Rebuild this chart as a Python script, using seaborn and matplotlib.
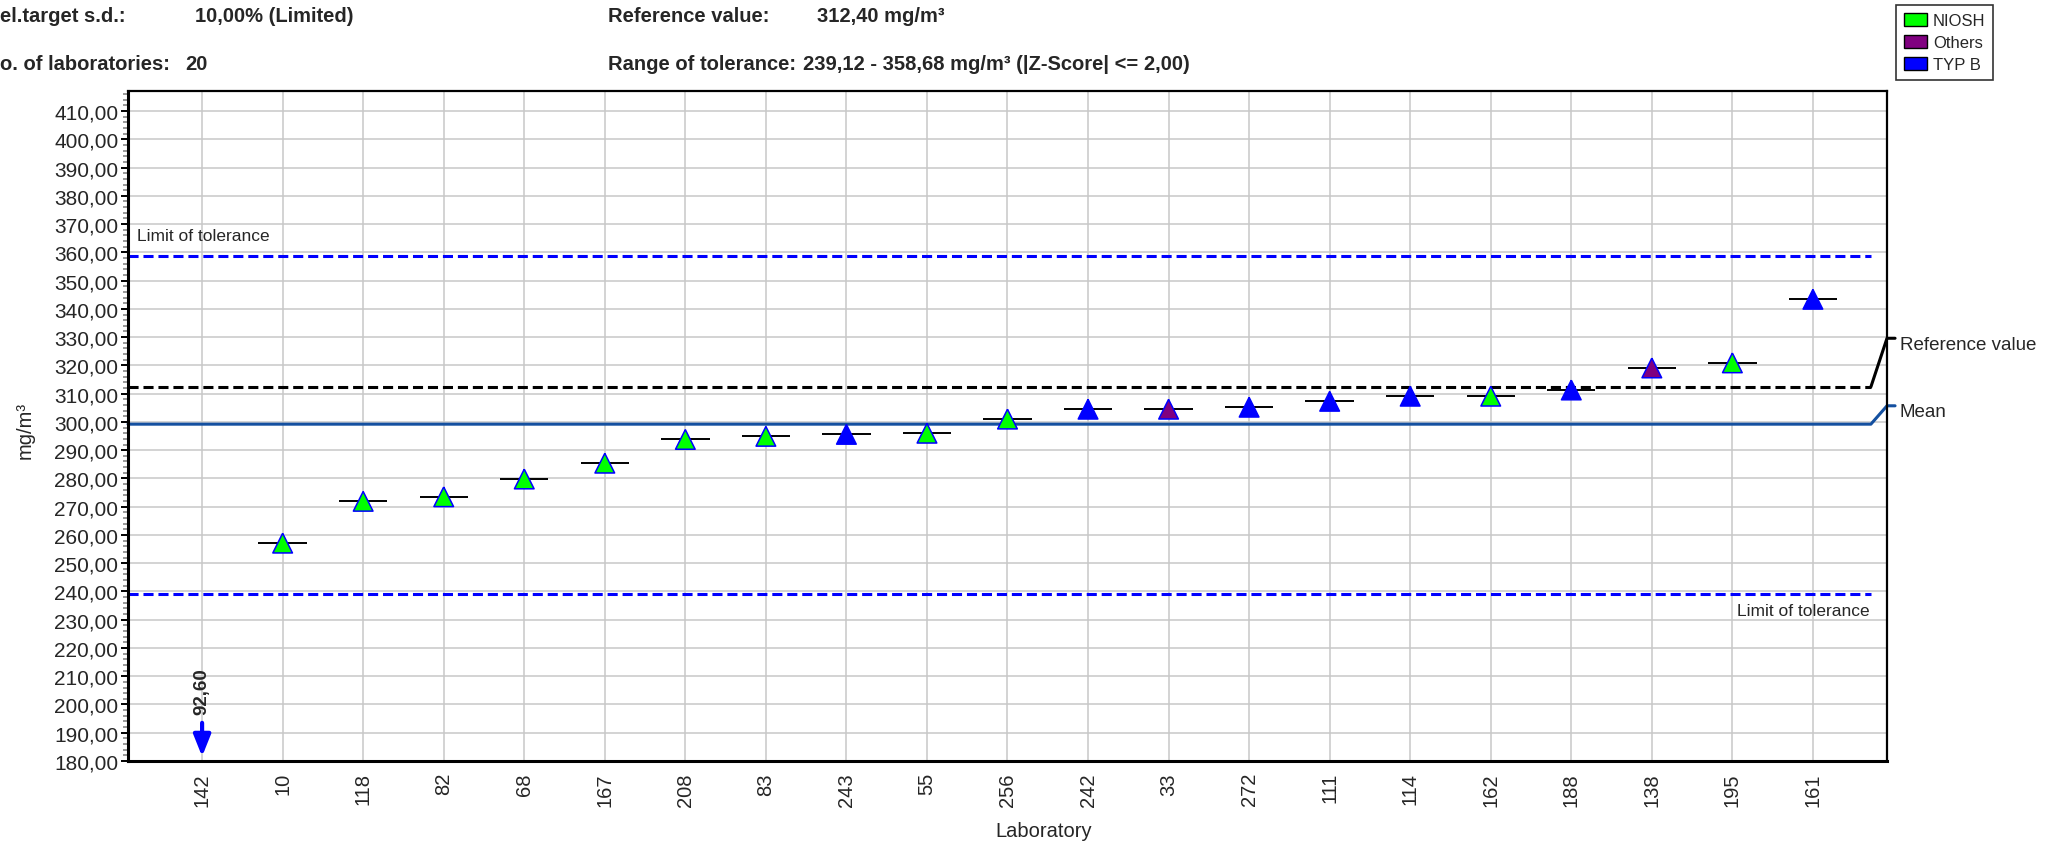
import numpy as np
import pandas as pd
import matplotlib
matplotlib.use('Agg')
import matplotlib.pyplot as plt
import seaborn as sns
from matplotlib.patches import Patch
from matplotlib.ticker import FuncFormatter, MultipleLocator

# ── Data ───────────────────────────────────────────────────────────────────────
labs = ['142', '10', '118', '82', '68', '167', '208', '83', '243', '55', '256',
        '242', '33', '272', '111', '114', '162', '188', '138', '195', '161']
values = [92.60, 257.1, 271.9, 273.5, 279.8, 285.4, 293.8, 294.9, 295.6, 296.0,
          301.0, 304.5, 304.5, 305.2, 307.3, 309.1, 309.1, 311.3, 319.1, 320.9, 343.4]
methods = ['TYP B', 'NIOSH', 'NIOSH', 'NIOSH', 'NIOSH', 'NIOSH', 'NIOSH', 'NIOSH',
           'TYP B', 'NIOSH', 'NIOSH', 'TYP B', 'Others', 'TYP B', 'TYP B', 'TYP B',
           'NIOSH', 'TYP B', 'Others', 'NIOSH', 'TYP B']
method_names = ['NIOSH', 'Others', 'TYP B']
method_colors = ['#00FF00', '#800080', '#0000FF']

REF_VALUE = 312.40
MEAN = 299.2
TOL_LOW, TOL_HIGH = 239.12, 358.68
Y_MIN, Y_MAX = 180, 417.1

# ── Style ──────────────────────────────────────────────────────────────────────
sns.set_theme(style='white')
plt.rcParams['font.family'] = ['Liberation Sans', 'DejaVu Sans']

W, H = 2064, 845
fig = plt.figure(figsize=(W / 100, H / 100), dpi=100)
ax = fig.add_axes([128 / W, 1 - 762 / H, (1887 - 128) / W, (762 - 92) / H])

x = np.arange(len(labs))
df = pd.DataFrame({'x': x, 'value': values, 'method': methods, 'lab': labs})
shown = df[df['value'] >= Y_MIN]
below = df[df['value'] < Y_MIN]

x_lo, x_hi = -0.92, len(labs) - 1 + 0.92
line_end = len(labs) - 1 + 0.72

ax.set_xlim(x_lo, x_hi)
ax.set_ylim(Y_MIN, Y_MAX)

# grid
for xi in x:
    ax.axvline(xi, color='#C8C8C8', lw=1.1, zorder=0)
for yv in np.arange(190, 411, 10):
    ax.axhline(yv, color='#C8C8C8', lw=1.1, zorder=0)

# tolerance, reference and mean lines
for tol in (TOL_LOW, TOL_HIGH):
    ax.plot([x_lo, line_end], [tol, tol], color='#0000FF', lw=2.2,
            dashes=(3.3, 1.6), zorder=2)
ax.plot([x_lo, line_end], [REF_VALUE, REF_VALUE], color='black', lw=2.2,
        dashes=(3.3, 1.6), zorder=2)
ax.plot([line_end, x_hi, x_hi + 0.1], [REF_VALUE, 329.6, 329.6],
        color='black', lw=2.2, zorder=2, clip_on=False)
ax.plot([x_lo, line_end, x_hi, x_hi + 0.1], [MEAN, MEAN, 305.7, 305.7],
        color='#1450A0', lw=2.2, zorder=2, clip_on=False)

ax.text(x_hi + 0.16, 327.3, 'Reference value', fontsize=13.5, va='center',
        ha='left', clip_on=False)
ax.text(x_hi + 0.16, 303.6, 'Mean', fontsize=13.5, va='center', ha='left',
        clip_on=False)
ax.text(x_lo + 0.11, 365.9, 'Limit of tolerance', fontsize=12.5, va='center', ha='left')
ax.text(line_end - 0.02, 233.2, 'Limit of tolerance', fontsize=12.5, va='center',
        ha='right')

# value bars + markers (triangle as wide as it is tall)
ax.hlines(shown['value'], shown['x'] - 0.3, shown['x'] + 0.3, color='black',
          lw=1.4, zorder=3)
tri = [(0, 1), (-1, -1), (1, -1), (0, 1)]
sns.scatterplot(data=shown, x='x', y='value', hue='method', hue_order=method_names,
                palette=dict(zip(method_names, method_colors)), marker=tri, s=200,
                edgecolor='#0000FF', linewidth=1.1, legend=False, zorder=4, ax=ax)

# out-of-range result
for _, row in below.iterrows():
    ax.annotate('', xy=(row['x'], Y_MIN + 1.6), xytext=(row['x'], 193.5),
                arrowprops=dict(arrowstyle='-|>,head_length=0.5,head_width=0.2',
                                color='#0000FF', lw=3, mutation_scale=26,
                                shrinkA=0, shrinkB=0), zorder=5)
    ax.text(row['x'], 196.6, f"{row['value']:.2f}".replace('.', ','), rotation=90,
            ha='center', va='bottom', fontsize=13.5, fontweight='bold')

# axes
ax.set_xticks(x)
ax.set_xticklabels(labs, rotation=90, fontsize=14.5, va='top')
ax.yaxis.set_major_locator(MultipleLocator(10))
ax.yaxis.set_minor_locator(MultipleLocator(2))
ax.yaxis.set_major_formatter(FuncFormatter(lambda v, p: f'{v:.2f}'.replace('.', ',')))
ax.tick_params(axis='y', which='major', labelsize=15, length=5, width=1.4,
               color='black', left=True, pad=2)
ax.tick_params(axis='y', which='minor', length=3.5, width=1.2, color='#888888', left=True)
ax.tick_params(axis='x', length=0, pad=8)
ax.set_xlabel('')
ax.set_ylabel('')
for side, sp in ax.spines.items():
    sp.set_color('black')
    sp.set_linewidth(2.2 if side in ('left', 'bottom') else 1.6)

fig.text(25 / W, 1 - 430 / H, 'mg/m³', rotation=90, fontsize=14.5, ha='center',
         va='center')
fig.text(1044 / W, 1 - 832 / H, 'Laboratory', fontsize=14.5, ha='center', va='center')

# header (left labels are cut at the figure edge in the reference)
hdr = dict(fontsize=14.5, fontweight='bold', va='center')
fig.text(0, 1 - 17 / H, 'el.target s.d.:', **hdr)
fig.text(195 / W, 1 - 17 / H, '10,00% (Limited)', **hdr)
fig.text(0, 1 - 65 / H, 'o. of laboratories:', **hdr)
fig.text(185 / W, 1 - 65 / H, '20', **hdr)
fig.text(608 / W, 1 - 17 / H, 'Reference value:', **hdr)
fig.text(817 / W, 1 - 17 / H, '312,40 mg/m³', **hdr)
fig.text(608 / W, 1 - 65 / H, 'Range of tolerance:', **hdr)
fig.text(803 / W, 1 - 65 / H, '239,12 - 358,68 mg/m³ (|Z-Score| <= 2,00)', **hdr)

# legend
handles = [Patch(facecolor=c, edgecolor='black', label=n)
           for n, c in zip(method_names, method_colors)]
leg = fig.legend(handles=handles, loc='upper right',
                 bbox_to_anchor=(1993 / W, 1 - 6 / H), fontsize=12, frameon=True,
                 fancybox=False, edgecolor='black', handlelength=1.4,
                 handleheight=0.9, labelspacing=0.38, borderpad=0.45,
                 handletextpad=0.35, borderaxespad=0)
leg.get_frame().set_linewidth(1.2)

fig.savefig('out.png', dpi=100, facecolor='white')
